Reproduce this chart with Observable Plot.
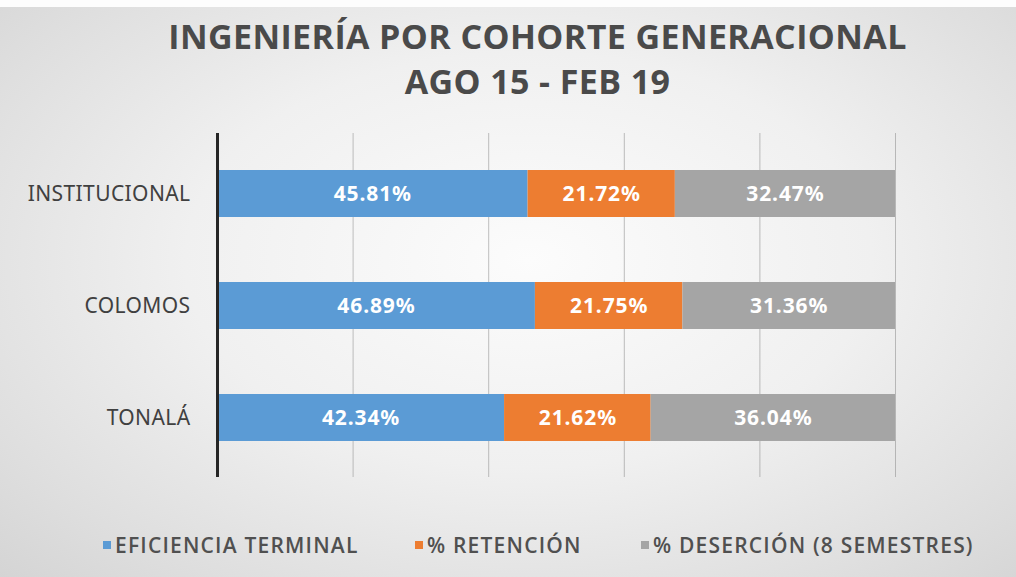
<!DOCTYPE html>
<html><head><meta charset="utf-8">
<script src="https://cdn.jsdelivr.net/npm/d3@7"></script>
<script src="https://cdn.jsdelivr.net/npm/@observablehq/plot@0.6"></script>
<style>
html,body{margin:0;padding:0;}
body{width:1016px;height:577px;overflow:hidden;position:relative;
 background:radial-gradient(ellipse 75% 80% at 52% 45%, #fcfcfc 0%, #f0f0f0 45%, #dedede 80%, #d3d3d3 100%);
 font-family:"Open Sans",sans-serif;}
#topstrip{position:absolute;left:0;top:0;width:1016px;height:7px;background:#fdfdfd;}
#title{position:absolute;left:0;width:1075px;top:14px;text-align:center;color:#4a4a4a;
 font-weight:700;font-size:34px;line-height:45px;letter-spacing:0.4px;}
#chart{position:absolute;left:0;top:133px;}
#legend{position:absolute;left:0;top:528px;width:1016px;height:34px;}
.li{position:absolute;top:0;display:flex;align-items:center;height:34px;color:#505050;font-size:21px;font-weight:600;letter-spacing:1.2px;white-space:nowrap;}
.sw{width:8px;height:8px;margin-right:4px;}
</style></head><body>
<div id="topstrip"></div>
<div id="title">INGENIERÍA POR COHORTE GENERACIONAL<br>AGO 15 - FEB 19</div>
<div id="chart"></div>
<div id="legend"></div>
<script>
const categories = ["INSTITUCIONAL", "COLOMOS", "TONALÁ"];
const seriesNames = ["EFICIENCIA TERMINAL", "% RETENCIÓN", "% DESERCIÓN (8 SEMESTRES)"];
const seriesColors = ["#5B9BD5", "#ED7D31", "#A5A5A5"];
const eficiencia = [45.81, 46.89, 42.34];
const retencion = [21.72, 21.75, 21.62];
const desercion = [32.47, 31.36, 36.04];
const xTicks = [0, 0.2, 0.4, 0.6, 0.8, 1.0];

const seriesValues = [eficiencia, retencion, desercion];
const rows = [];
seriesNames.forEach((s, si) => categories.forEach((c, ci) => rows.push({cat: c, series: s, value: seriesValues[si][ci] / 100})));

const plot = Plot.plot({
  width: 1016, height: 344,
  marginLeft: 217, marginRight: 121, marginTop: 0, marginBottom: 0,
  style: {background: "transparent", overflow: "visible"},
  x: {domain: [0, 1], axis: null},
  y: {domain: categories, paddingInner: 0.584, paddingOuter: 0.32, align: 0.5, label: null},
  color: {domain: seriesNames, range: seriesColors},
  marks: [
    Plot.gridX(xTicks, {stroke: "#8c8c8c", strokeOpacity: 0.55, strokeWidth: 1}),
    Plot.barX(rows, Plot.stackX({x: "value", y: "cat", fill: "series", z: "series", order: seriesNames})),
    Plot.text(rows, Plot.stackX({x: "value", y: "cat", z: "series", order: seriesNames,
      text: d => (d.value * 100).toFixed(2) + "%", fill: "white", fontWeight: 700, fontSize: 21,
      style: "letter-spacing:0.9px"})),
    Plot.ruleX([0], {stroke: "#262626", strokeWidth: 3}),
    Plot.axisY({tickSize: 0, tickPadding: 27, fontSize: 21, color: "#404040", label: null})
  ]
});
plot.querySelectorAll("text").forEach(e => { if (e.textContent.includes("%")) e.style.letterSpacing = "0.9px"; });
plot.querySelectorAll("g[aria-label='y-axis tick label']").forEach(e => { e.setAttribute("fill", "#404040"); e.style.letterSpacing = "0.4px"; });
document.getElementById("chart").appendChild(plot);

const legendX = [103, 415, 641];
const lg = document.getElementById("legend");
seriesNames.forEach((s, i) => {
  const d = document.createElement("div");
  d.className = "li"; d.style.left = legendX[i] + "px";
  d.innerHTML = `<span class="sw" style="background:${seriesColors[i]}"></span><span>${s}</span>`;
  lg.appendChild(d);
});
</script>
</body></html>
